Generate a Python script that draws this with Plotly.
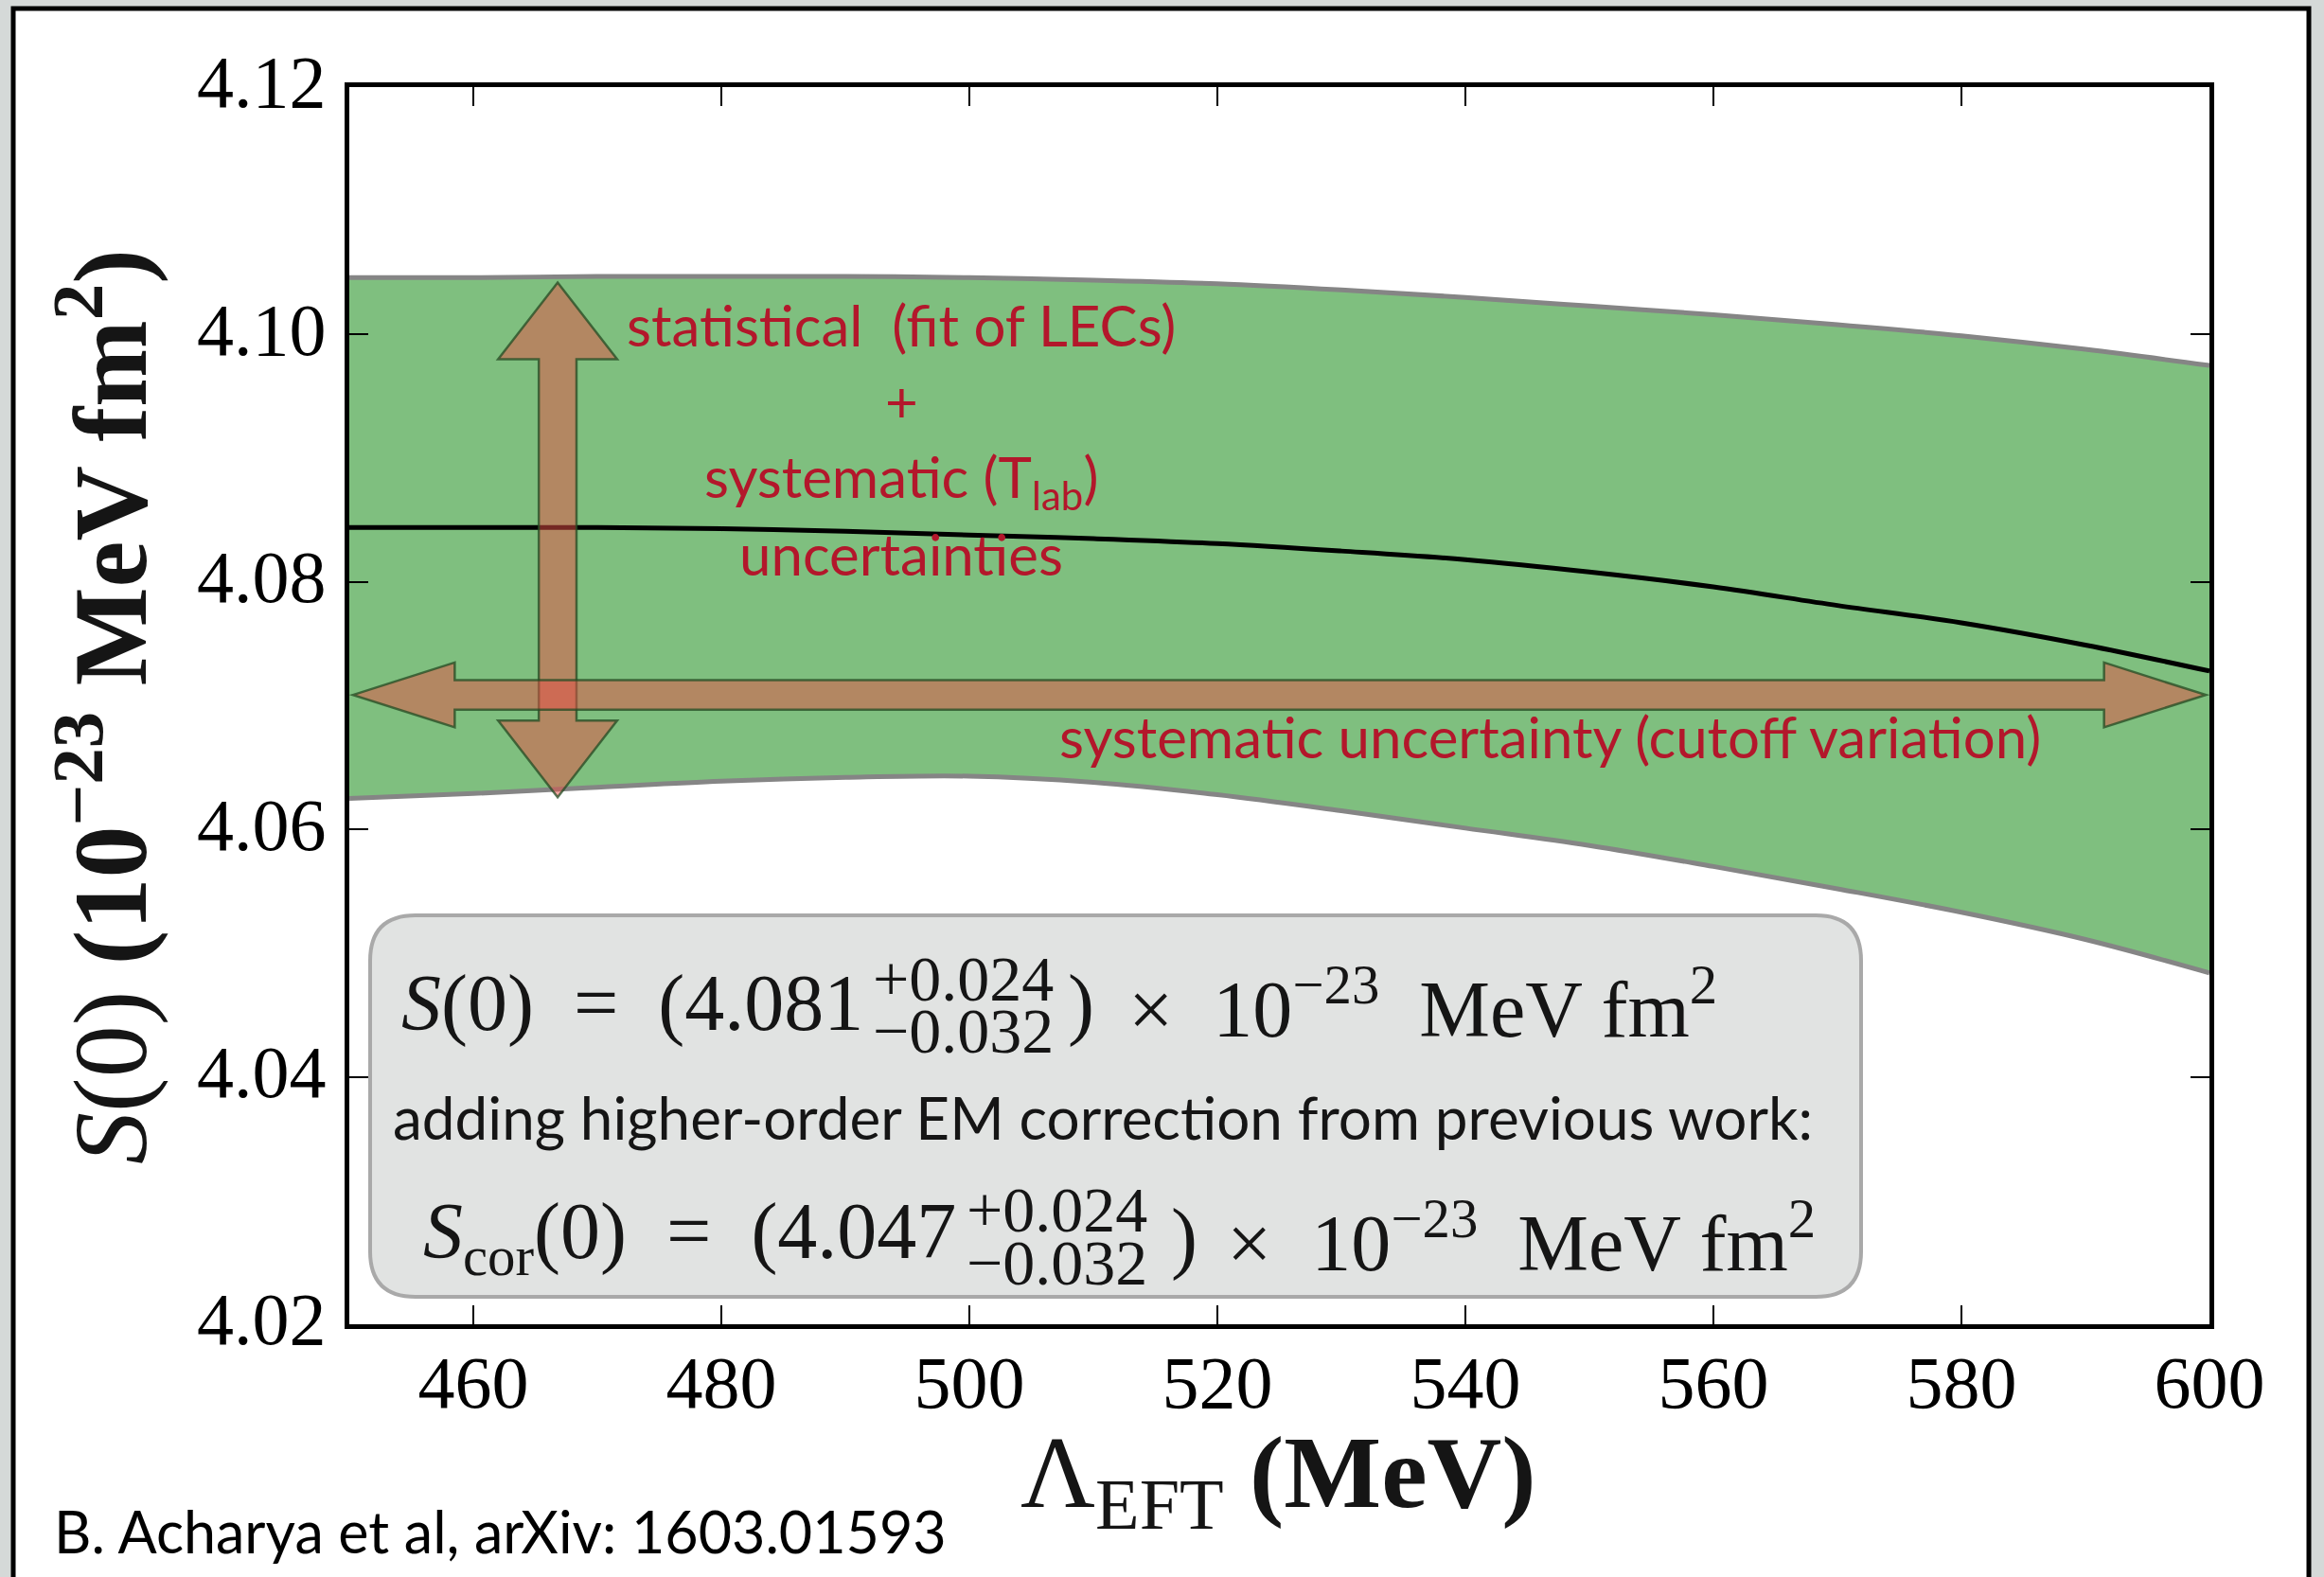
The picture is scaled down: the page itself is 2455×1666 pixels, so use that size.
import plotly.graph_objects as go

# ---------------- data ----------------
cutoff = [450, 460, 470, 480, 490, 500, 510, 520, 530, 540, 550, 560, 570, 580, 590, 600]
s_upper = [4.1046, 4.1046, 4.1047, 4.1047, 4.1047, 4.1046, 4.1044, 4.1041, 4.1036, 4.1030,
           4.1023, 4.1016, 4.1008, 4.0999, 4.0988, 4.0975]
s_central = [4.0844, 4.0844, 4.0844, 4.0843, 4.0841, 4.0838, 4.0835, 4.0831, 4.0825, 4.0818,
             4.0808, 4.0796, 4.0781, 4.0767, 4.0749, 4.0728]
s_lower = [4.0625, 4.0629, 4.0634, 4.0639, 4.0642, 4.0643, 4.0638, 4.0628, 4.0615, 4.0601,
           4.0587, 4.0570, 4.0552, 4.0533, 4.0511, 4.0484]
x_ticks = [460, 480, 500, 520, 540, 560, 580, 600]
y_ticks = [4.02, 4.04, 4.06, 4.08, 4.10, 4.12]
x_range = [450, 600]
y_range = [4.02, 4.12]

# ---------------- layout geometry ----------------
W, H = 2455, 1666
ML, MR, MT, MB = 369, 121, 92, 267
PW, PH = W - ML - MR, H - MT - MB


def px2x(px):
    return x_range[0] + (px - ML) / PW * (x_range[1] - x_range[0])


def py2y(py):
    return y_range[1] - (py - MT) / PH * (y_range[1] - y_range[0])


def px2p(px):
    return (px - ML) / PW


def py2p(py):
    return (H - MB - py) / PH


MATH = "Liberation Serif"
SANS = "Lato"
RED = "#b3172b"
INK = "#151515"

fig = go.Figure()
fig.add_trace(go.Scatter(x=cutoff, y=s_lower, mode="lines", line=dict(color="#858585", width=5, shape="spline"),
                         showlegend=False, hoverinfo="skip"))
fig.add_trace(go.Scatter(x=cutoff, y=s_upper, mode="lines", fill="tonexty", fillcolor="rgba(0,128,0,0.5)",
                         line=dict(color="#858585", width=5, shape="spline"), showlegend=False, hoverinfo="skip"))
fig.add_trace(go.Scatter(x=cutoff, y=s_central, mode="lines", line=dict(color="black", width=5, shape="spline"),
                         showlegend=False, hoverinfo="skip"))

shapes = []
# outer white panel with black frame
shapes.append(dict(type="rect", xref="paper", yref="paper", layer="below",
                   x0=px2p(14), x1=px2p(2439), y0=py2p(1720), y1=py2p(9),
                   fillcolor="white", line=dict(color="black", width=5)))


def poly(pts):
    return "M " + " L ".join(f"{x},{y}" for x, y in pts) + " Z"


ARROW_FILL = "rgba(232,80,70,0.5)"
ARROW_LINE = dict(color="rgba(35,75,35,0.75)", width=2.5)

# horizontal arrow (cutoff variation)
h_left, h_right, h_y = 450.3, 599.7, 4.07087
h_shaft, h_head, h_len = 0.0012, 0.00262, 8.2
hpts = [(h_left, h_y), (h_left + h_len, h_y + h_head), (h_left + h_len, h_y + h_shaft),
        (h_right - h_len, h_y + h_shaft), (h_right - h_len, h_y + h_head), (h_right, h_y),
        (h_right - h_len, h_y - h_head), (h_right - h_len, h_y - h_shaft),
        (h_left + h_len, h_y - h_shaft), (h_left + h_len, h_y - h_head)]
# vertical arrow (statistical + Tlab)
v_x, v_bot, v_top = 466.8, 4.0626, 4.1042
v_shaft, v_head, v_len = 1.52, 4.8, 0.0062
vpts = [(v_x, v_top), (v_x + v_head, v_top - v_len), (v_x + v_shaft, v_top - v_len),
        (v_x + v_shaft, v_bot + v_len), (v_x + v_head, v_bot + v_len), (v_x, v_bot),
        (v_x - v_head, v_bot + v_len), (v_x - v_shaft, v_bot + v_len),
        (v_x - v_shaft, v_top - v_len), (v_x - v_head, v_top - v_len)]
shapes.append(dict(type="path", xref="x", yref="y", path=poly(vpts), fillcolor=ARROW_FILL, line=ARROW_LINE, layer="above"))
shapes.append(dict(type="path", xref="x", yref="y", path=poly(hpts), fillcolor=ARROW_FILL, line=ARROW_LINE, layer="above"))

# rounded result box
bx0, bx1, by0, by1 = px2x(391), px2x(1966), py2y(1370), py2y(967)
r = 48
rx = r / PW * (x_range[1] - x_range[0])
ry = r / PH * (y_range[1] - y_range[0])
box_path = (f"M {bx0+rx},{by1} L {bx1-rx},{by1} Q {bx1},{by1} {bx1},{by1-ry} L {bx1},{by0+ry} "
            f"Q {bx1},{by0} {bx1-rx},{by0} L {bx0+rx},{by0} Q {bx0},{by0} {bx0},{by0+ry} "
            f"L {bx0},{by1-ry} Q {bx0},{by1} {bx0+rx},{by1} Z")
shapes.append(dict(type="path", xref="x", yref="y", path=box_path, fillcolor="#e1e3e2",
                   line=dict(color="#a9a9a9", width=4), layer="above"))

ann = []


def add(text, px, py, size, font=MATH, color=INK, xanchor="center", yanchor="middle", angle=0, ref="data"):
    if ref == "data":
        xv, yv, xr, yr = px2x(px), py2y(py), "x", "y"
    else:
        xv, yv, xr, yr = px2p(px), py2p(py), "paper", "paper"
    ann.append(dict(text=text, x=xv, y=yv, xref=xr, yref=yr, showarrow=False, borderpad=0,
                    xanchor=xanchor, yanchor=yanchor, textangle=angle,
                    font=dict(family=font, size=size, color=color)))


NB = "\u00a0"
# red labels
add(f"statistical{NB}{NB}(fit of LECs)", 952, 343, 60, SANS, RED)
add("+", 952, 423, 60, SANS, RED)
add("systematic (T<sub>lab</sub>)", 952, 507, 60, SANS, RED)
add("uncertainties", 952, 585, 60, SANS, RED)
add("systematic uncertainty (cutoff variation)", 1637, 778, 60, SANS, RED)

# box line 1
add(f"<i>S</i>(0){NB}{NB}={NB}{NB}(4.081", 913, 1060, 84, xanchor="right")
add("+0.024", 921, 1034, 68, xanchor="left")
add("\u22120.032", 921, 1089, 68, xanchor="left")
add(")", 1127, 1060, 84, xanchor="left")
add(f"\u00d7{NB}{NB}10<sup>\u221223</sup>{NB}{NB}MeV fm<sup>2</sup>", 1191, 1060, 84, xanchor="left")
# box line 2
add("adding higher-order EM correction from previous work:", 1165, 1180, 62, SANS, INK)
# box line 3
add(f"<i>S</i><sub>cor</sub>(0){NB}{NB}={NB}{NB}(4.047", 1011, 1307, 84, xanchor="right")
add("+0.024", 1020, 1278, 68, xanchor="left")
add("\u22120.032", 1020, 1334, 68, xanchor="left")
add(")", 1236, 1307, 84, xanchor="left")
add(f"\u00d7{NB}{NB}10<sup>\u221223</sup>{NB}{NB}MeV fm<sup>2</sup>", 1295, 1307, 84, xanchor="left")

# axis titles
add("\u039b<sub>EFT</sub> <b>(MeV)</b>", 1350, 1563, 109, ref="paper")
add("<i>S</i>(0) <b>(10<sup>\u221223</sup> MeV fm<sup>2</sup>)</b>", 108, 747, 110, angle=-90, ref="paper")
# citation
add("B. Acharya et al, arXiv: 1603.01593", 56, 1617, 61, SANS, "black", xanchor="left", ref="paper")

axis_common = dict(showline=True, linewidth=5, linecolor="black", mirror="ticks", ticks="inside",
                   ticklen=20, tickwidth=2, tickcolor="black", showgrid=False, zeroline=False,
                   tickfont=dict(family=MATH, size=78, color="black"))

fig.update_layout(
    width=W, height=H, autosize=False,
    margin=dict(l=ML, r=MR, t=MT, b=MB, pad=0),
    paper_bgcolor="#d5d9d8", plot_bgcolor="white",
    showlegend=False,
    xaxis=dict(range=x_range, tickvals=x_ticks, ticktext=[str(v) for v in x_ticks], ticklabelstandoff=-11,
               **axis_common),
    yaxis=dict(range=y_range, tickvals=y_ticks, ticktext=[f"{v:.2f}" for v in y_ticks], ticklabelstandoff=4,
               ticklabelshift=-6, **axis_common),
    shapes=shapes,
    annotations=ann,
)

fig.write_html("out.html")
